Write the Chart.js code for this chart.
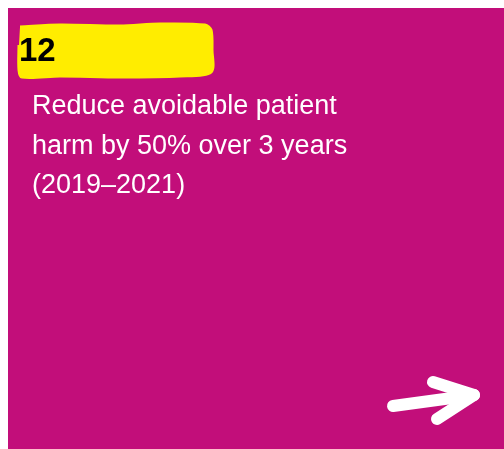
<!DOCTYPE html>
<html>
<head>
<meta charset="utf-8">
<script src="https://cdn.jsdelivr.net/npm/chart.js@4"></script>
<style>
  html, body { margin: 0; padding: 0; background: #ffffff; }
  #wrap { width: 504px; height: 449px; }
</style>
</head>
<body>
<div id="wrap"><canvas id="card"></canvas></div>
<script>
// card area in page units
const cardX = [8, 504];
const cardY = [8, 449];

// yellow marker highlight outline
const markX = [20, 60, 120, 160, 205, 211, 212, 211, 180, 120, 60, 22, 19, 19];
const markY = [27, 25, 26, 24, 25, 30, 50, 72, 76, 77, 76, 77, 70, 45];

// hand drawn arrow strokes
const shaftX = [393, 474];
const shaftY = [406, 395];
const headX = [433, 474, 437];
const headY = [382, 395, 419];

const numberLabel = '12';
const headline = ['Reduce avoidable patient', 'harm by 50% over 3 years', '(2019\u20132021)'];

const toPoints = (xs, ys) => xs.map((x, i) => ({ x: x, y: ys[i] }));

const cardPlugin = {
  id: 'cardPlugin',
  beforeDatasetsDraw(chart) {
    const { ctx, scales: { x, y } } = chart;
    ctx.save();
    ctx.fillStyle = '#c20e7a';
    const left = x.getPixelForValue(cardX[0]);
    const top = y.getPixelForValue(cardY[0]);
    ctx.fillRect(left, top, x.getPixelForValue(cardX[1]) - left, y.getPixelForValue(cardY[1]) - top);
    ctx.restore();
  },
  afterDatasetsDraw(chart) {
    const { ctx, scales: { x, y } } = chart;
    ctx.save();
    ctx.fillStyle = '#000000';
    ctx.font = 'bold 33px "Liberation Sans", Arial, sans-serif';
    ctx.textBaseline = 'alphabetic';
    ctx.fillText(numberLabel, x.getPixelForValue(19), y.getPixelForValue(61));

    ctx.fillStyle = '#ffffff';
    ctx.font = '27px "Liberation Sans", Arial, sans-serif';
    headline.forEach((line, i) => {
      ctx.fillText(line, x.getPixelForValue(32), y.getPixelForValue(114 + i * 39.5));
    });
    ctx.restore();
  }
};

new Chart(document.getElementById('card'), {
  type: 'scatter',
  data: {
    datasets: [
      {
        data: toPoints(markX, markY),
        showLine: true,
        fill: 'shape',
        backgroundColor: '#ffed00',
        borderColor: '#ffed00',
        borderWidth: 3,
        borderJoinStyle: 'round',
        pointRadius: 0,
        tension: 0.3
      },
      {
        data: toPoints(shaftX, shaftY),
        showLine: true,
        borderColor: '#ffffff',
        borderWidth: 12,
        borderCapStyle: 'round',
        pointRadius: 0
      },
      {
        data: toPoints(headX, headY),
        showLine: true,
        borderColor: '#ffffff',
        borderWidth: 12,
        borderCapStyle: 'round',
        borderJoinStyle: 'round',
        pointRadius: 0
      }
    ]
  },
  options: {
    responsive: true,
    maintainAspectRatio: false,
    animation: false,
    layout: { padding: 0 },
    plugins: {
      legend: { display: false },
      tooltip: { enabled: false }
    },
    scales: {
      x: { type: 'linear', min: 0, max: 504, display: false },
      y: { type: 'linear', min: 0, max: 449, reverse: true, display: false }
    }
  },
  plugins: [cardPlugin]
});
</script>
</body>
</html>
